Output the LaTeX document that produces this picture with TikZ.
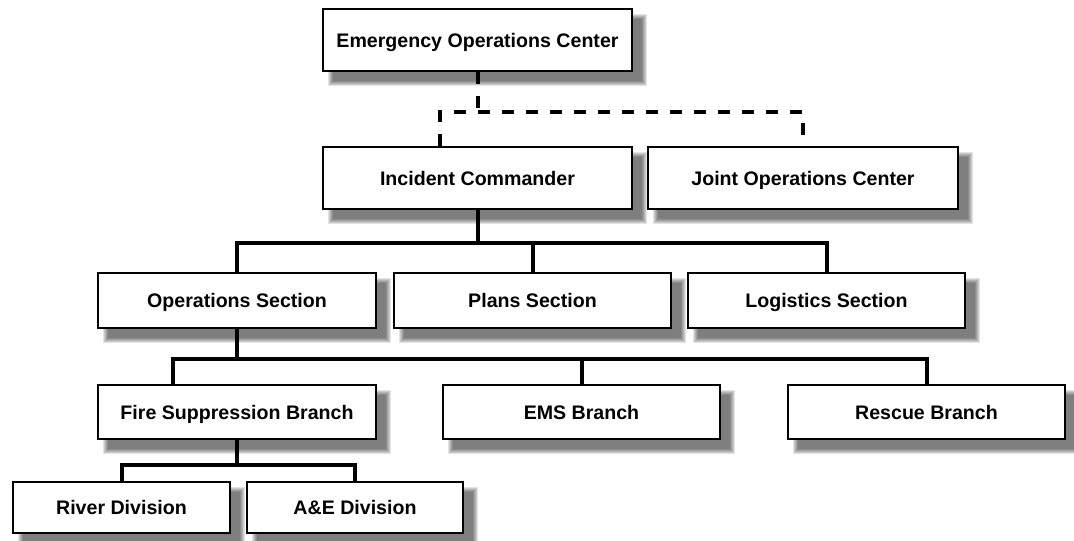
\documentclass[tikz,border=0pt]{standalone}
\usepackage{fontspec}
\setmainfont{Liberation Sans}
\pgfdeclarelayer{background}
\pgfsetlayers{background,main}
\tikzset{
  box/.style={draw=black, line width=2.5pt, fill=white, rectangle, inner sep=0pt,
    text height=14pt, text depth=0pt,
    font=\bfseries\fontsize{19.6}{23}\selectfont},
  conn/.style={draw=black, line width=4pt},
  dconn/.style={draw=black, line width=4pt, dash pattern=on 12pt off 12pt},
}
\begin{document}
\begin{tikzpicture}[x=1pt,y=-1pt]
\useasboundingbox (0,0) rectangle (1074,541);
% nodes
\node[box, minimum width=309pt, minimum height=62pt] (eoc) at (477.5,40) {Emergency Operations Center};
\node[box, minimum width=309pt, minimum height=62pt] (ic) at (477.5,178) {Incident Commander};
\node[box, minimum width=310pt, minimum height=62pt] (joc) at (803,178) {Joint Operations Center};
\node[box, minimum width=278pt, minimum height=55pt] (ops) at (237,300.5) {Operations Section};
\node[box, minimum width=277pt, minimum height=55pt] (plans) at (532.5,300.5) {Plans Section};
\node[box, minimum width=277pt, minimum height=55pt] (log) at (826.5,300.5) {Logistics Section};
\node[box, minimum width=278pt, minimum height=54pt] (fs) at (237,412) {Fire Suppression Branch};
\node[box, minimum width=277pt, minimum height=54pt] (ems) at (581.5,412) {EMS Branch};
\node[box, minimum width=277pt, minimum height=54pt] (res) at (926.5,412) {Rescue Branch};
\node[box, minimum width=217pt, minimum height=51pt] (river) at (121.5,507.5) {River Division};
\node[box, minimum width=216pt, minimum height=51pt] (ae) at (355,507.5) {A\&E Division};
% shadows
\begin{pgfonlayer}{background}
\foreach \n in {eoc,ic,joc,ops,plans,log,fs,ems,res,river,ae}{
  \foreach \e in {4,3,2,1,0,-1}{
    \fill[black,opacity=0.11] ([shift={(10-\e,10-\e)}]\n.north west) rectangle ([shift={(10+\e,10+\e)}]\n.south east);
  }
}
\end{pgfonlayer}
% junction coordinates
\coordinate (d) at (477.5,112);
\coordinate (dl) at (440,112);
\coordinate (b1) at (477.5,243);
\coordinate (b2) at (237,359);
\coordinate (b2l) at (173,359);
\coordinate (b3) at (237,465);
% dashed links
\draw[dconn] (eoc.south) -- (d);
\draw[dconn] (ic.north -| dl) -- (dl) -| (joc.north);
% solid links
\draw[conn] (ic.south) -- (b1);
\draw[conn] (ops.north) |- (b1) -| (log.north);
\draw[conn] (plans.north) -- (plans.north |- b1);
\draw[conn] (ops.south) -- (b2);
\draw[conn] (fs.north -| b2l) -- (b2l) -| (res.north);
\draw[conn] (ems.north) -- (ems.north |- b2l);
\draw[conn] (fs.south) -- (b3);
\draw[conn] (river.north) |- (b3) -| (ae.north);
\end{tikzpicture}
\end{document}
